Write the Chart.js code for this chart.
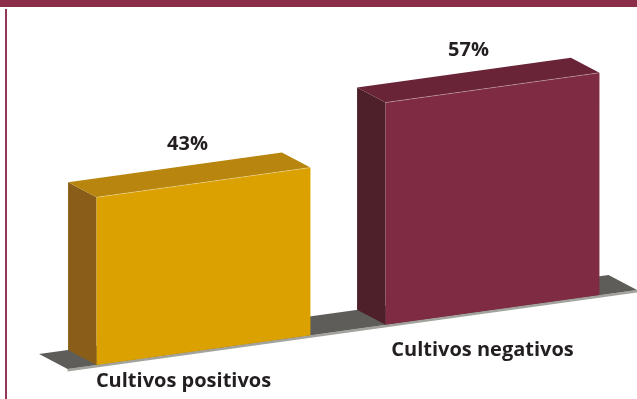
<!DOCTYPE html>
<html>
<head>
<meta charset="utf-8">
<script src="https://cdn.jsdelivr.net/npm/chart.js@4"></script>
<style>
  html, body { margin: 0; padding: 0; background: #ffffff; }
  #wrap { width: 637px; height: 399px; }
</style>
</head>
<body>
<div id="wrap"><canvas id="chart" width="637" height="399"></canvas></div>
<script>
// Culture results, share of samples (%)
const categories = ['Cultivos positivos', 'Cultivos negativos'];
const shares = [43, 57];
const valueLabels = ['43%', '57%'];

// Face colours per bar: front, top, side
const frontColors = ['#DBA100', '#7E2B43'];
const topColors = ['#B8860F', '#6A2438'];
const sideColors = ['#8A5E19', '#4E2029'];

const SKEW = -0.139;          // floor slope across the category axis
const DEPTH = { x: -28.5, y: -15 };

const box3d = {
  id: 'box3d',
  beforeDraw(chart) {
    const ctx = chart.ctx;
    ctx.save();
    // header band and side rule
    ctx.fillStyle = '#8B2E4A';
    ctx.fillRect(0, 0, chart.width, 7);
    ctx.fillStyle = '#93385A';
    ctx.fillRect(5, 9, 2, chart.height - 9);
    ctx.restore();
  },
  afterDatasetsDraw(chart) {
    const ctx = chart.ctx;
    const meta = chart.getDatasetMeta(0);
    const bars = meta.data;
    const yScale = chart.scales.y;
    const base = yScale.getPixelForValue(0);
    const pivot = bars[0].x - bars[0].width / 2;
    const P = (x, y) => [x, y + SKEW * (x - pivot)];
    const B = (p) => [p[0] + DEPTH.x, p[1] + DEPTH.y];
    const poly = (pts, fill) => {
      ctx.beginPath();
      ctx.moveTo(pts[0][0], pts[0][1]);
      for (let i = 1; i < pts.length; i++) ctx.lineTo(pts[i][0], pts[i][1]);
      ctx.closePath();
      ctx.fillStyle = fill;
      ctx.fill();
    };
    ctx.save();

    // floor slab
    const fl = P(pivot - 29, base);
    const fr = P(chart.chartArea.right, base);
    poly([[fl[0], fl[1]], [fr[0], fr[1]], [fr[0], fr[1] + 2.5], [fl[0], fl[1] + 2.5]], '#A3A39E');
    poly([fl, fr, B(fr), B(fl)], '#5E5D59');

    bars.forEach((bar, i) => {
      const left = bar.x - bar.width / 2;
      const right = bar.x + bar.width / 2;
      const top = yScale.getPixelForValue(shares[i]);
      const ftl = P(left, top), ftr = P(right, top);
      const fbl = P(left, base), fbr = P(right, base);
      // left side face
      poly([ftl, fbl, B(fbl), B(ftl)], sideColors[i]);
      // top face
      poly([ftl, ftr, B(ftr), B(ftl)], topColors[i]);
      // front face
      poly([ftl, ftr, fbr, fbl], frontColors[i]);
      // light edge between top and front
      ctx.beginPath();
      ctx.moveTo(ftl[0], ftl[1]);
      ctx.lineTo(ftr[0], ftr[1]);
      ctx.strokeStyle = 'rgba(255,255,255,0.35)';
      ctx.lineWidth = 0.8;
      ctx.stroke();
    });

    // value labels above the tops, category labels below the floor
    const valueNudge = [-16, -24];
    const catNudge = [-20, -10];
    const catDrop = [37, 46];
    ctx.fillStyle = '#231F20';
    ctx.font = 'bold 20px "Open Sans", sans-serif';
    ctx.textAlign = 'center';
    ctx.textBaseline = 'alphabetic';
    bars.forEach((bar, i) => {
      const top = yScale.getPixelForValue(shares[i]);
      const c = B(P(bar.x, top));
      ctx.fillText(valueLabels[i], bar.x + valueNudge[i], c[1] - 17);
      const f = P(bar.x, base);
      ctx.fillText(categories[i], bar.x + catNudge[i], f[1] + catDrop[i]);
    });
    ctx.restore();
  }
};

new Chart(document.getElementById('chart'), {
  type: 'bar',
  data: {
    labels: categories,
    datasets: [{
      data: shares,
      backgroundColor: 'rgba(0,0,0,0)',
      borderWidth: 0,
      categoryPercentage: 1.0,
      barPercentage: 0.74
    }]
  },
  options: {
    responsive: false,
    animation: false,
    layout: { padding: { top: 14, bottom: 34, left: 59, right: 0 } },
    plugins: { legend: { display: false }, tooltip: { enabled: false } },
    scales: {
      x: { display: false },
      y: { display: false, min: 0, max: 90 }
    }
  },
  plugins: [box3d]
});
</script>
</body>
</html>
